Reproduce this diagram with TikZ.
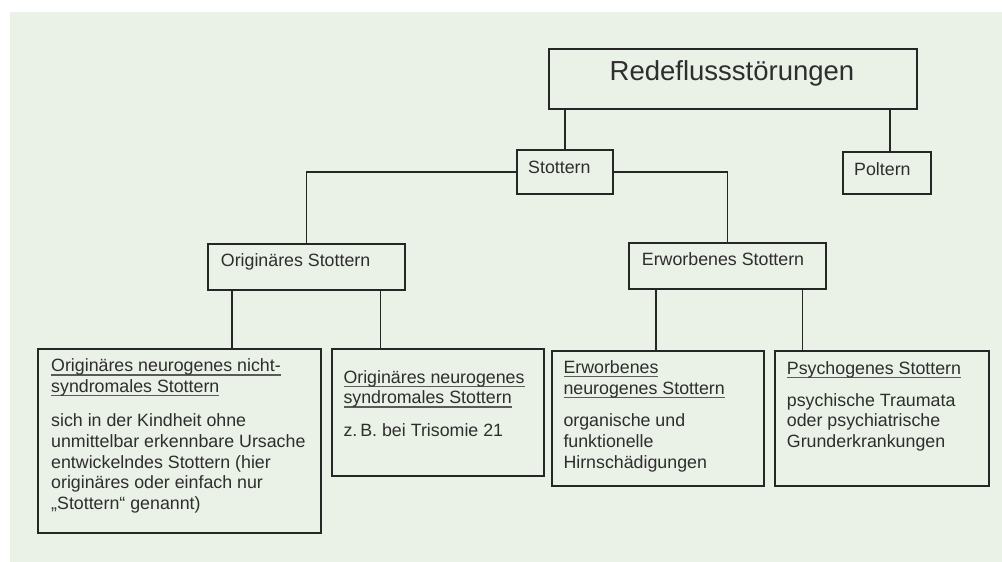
\documentclass[tikz,border=0pt]{standalone}
\usepackage{fontspec}
\setmainfont{Liberation Sans}
\definecolor{panel}{HTML}{EAF1E6}
\definecolor{ink}{HTML}{2E2E2E}
\definecolor{linec}{HTML}{262626}
\definecolor{ulc}{HTML}{5A5A5A}
\newcommand\hdl[1]{\setbox0\hbox{#1}\rlap{\color{ulc}\rule[-3.8pt]{\wd0}{1.2pt}}\box0}
\begin{document}
\begin{tikzpicture}[x=1pt,y=-1pt,
  boxst/.style={draw=linec,line width=1.7pt,fill=panel,inner sep=0pt,anchor=north west},
  conn/.style={draw=linec,line width=1.5pt},
  txt/.style={text=ink,inner sep=0pt,anchor=base west,align=left,font=\fontsize{17.8}{20.7}\selectfont}]
\useasboundingbox (0,0) rectangle (1002,562);
\fill[white] (0,0) rectangle (1002,562);
\fill[panel] (10,12) rectangle (1002,562);
% boxes
\node[boxst,minimum width=368pt,minimum height=60pt] (red) at (548,48) {};
\node[boxst,minimum width=96pt,minimum height=44pt] (stot) at (516,149) {};
\node[boxst,minimum width=88pt,minimum height=42pt] (polt) at (842,151) {};
\node[boxst,minimum width=197pt,minimum height=46pt] (orig) at (207,243) {};
\node[boxst,minimum width=197pt,minimum height=46pt] (erw) at (628,242) {};
\node[boxst,minimum width=283pt,minimum height=184pt] (b1) at (37,348) {};
\node[boxst,minimum width=212pt,minimum height=127pt] (b2) at (331,348) {};
\node[boxst,minimum width=212pt,minimum height=135pt] (b3) at (551,350) {};
\node[boxst,minimum width=214pt,minimum height=135pt] (b4) at (774,350) {};
% connectors
\draw[conn] (stot.north |- red.south) -- (stot.north);
\draw[conn] ([xshift=3pt]polt.north |- red.south) -- ([xshift=3pt]polt.north);
\draw[conn] (stot.west) -| (orig.north);
\draw[conn] (stot.east) -| (erw.north);
\draw[conn] ([xshift=25pt]orig.south west) -- ([xshift=25pt]orig.south west |- b1.north);
\draw[conn] ([xshift=-25pt]orig.south east) -- ([xshift=-25pt]orig.south east |- b2.north);
\draw[conn] ([xshift=28pt]erw.south west) -- ([xshift=28pt]erw.south west |- b3.north);
\draw[conn] ([xshift=-24pt]erw.south east) -- ([xshift=-24pt]erw.south east |- b4.north);
% texts (multi-line nodes are placed by the baseline of their last line)
\node[txt,anchor=base,font=\fontsize{27.5}{32}\selectfont] (tred) at (732,80.7) {Redeflussstörungen};
\node[txt] (tstot) at (528,173) {Stottern};
\node[txt] (tpolt) at (854,175) {Poltern};
\node[txt] (torig) at (220.7,266.7) {Originäres Stottern};
\node[txt] (terw) at (641.7,265) {Erworbenes Stottern};
\node[txt] (h1) at (51,392.4) {\hdl{Originäres neurogenes nicht-}\\\hdl{syndromales Stottern}};
\node[txt] (d1) at (51,509.5) {sich in der Kindheit ohne\\unmittelbar erkennbare Ursache\\entwickelndes Stottern (hier\\originäres oder einfach nur\\„Stottern“ genannt)};
\node[txt] (h2) at (343.3,403.7) {\hdl{Originäres neurogenes}\\\hdl{syndromales Stottern}};
\node[txt] (d2) at (343.3,436.7) {z.\,B. bei Trisomie 21};
\node[txt] (h3) at (563.3,394) {\hdl{Erworbenes}\\\hdl{neurogenes Stottern}};
\node[txt] (d3) at (563.3,468.1) {organische und\\funktionelle\\Hirnschädigungen};
\node[txt] (h4) at (786.7,374.3) {\hdl{Psychogenes Stottern}};
\node[txt] (d4) at (786.7,447.4) {psychische Traumata\\oder psychiatrische\\Grunderkrankungen};
\end{tikzpicture}
\end{document}
